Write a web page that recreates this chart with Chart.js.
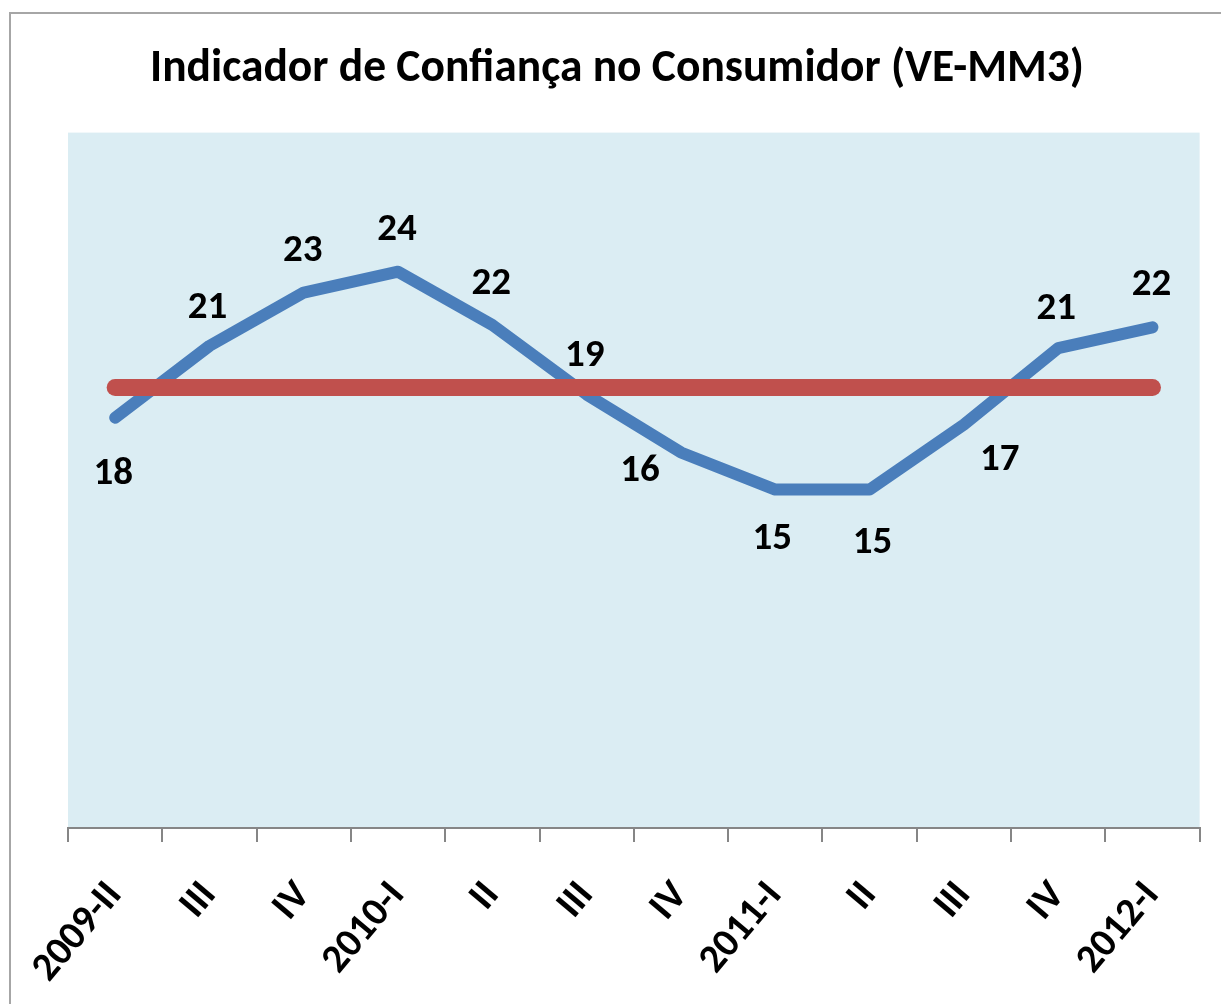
<!DOCTYPE html>
<html>
<head>
<meta charset="utf-8">
<title>Indicador de Confiança no Consumidor</title>
<script src="https://cdn.jsdelivr.net/npm/chart.js@4.4.0/dist/chart.umd.min.js"></script>
<style>
  html, body { margin: 0; padding: 0; background: #fff; overflow: hidden; }
  #wrap { position: relative; width: 1221px; height: 1004px; overflow: hidden; }
  #frame { position: absolute; left: 9px; top: 12px; width: 1300px; height: 1100px; border: 2px solid #a6a6a6; }
  #lineChart { position: absolute; left: 0; top: 0; }
</style>
</head>
<body>
<div id="wrap">
  <div id="frame"></div>
  <canvas id="lineChart" width="1221" height="1004"></canvas>
</div>
<script>
// quarters shown on the x axis
const quarters = ["2009-II", "III", "IV", "2010-I", "II", "III", "IV", "2011-I", "II", "III", "IV", "2012-I"];
// consumer confidence indicator (3 month moving avg)
const confidence = [17.7, 20.8, 23.1, 24.0, 21.7, 18.7, 16.2, 14.6, 14.6, 17.4, 20.7, 21.6];
// flat reference line
const average = [19.0, 19.0, 19.0, 19.0, 19.0, 19.0, 19.0, 19.0, 19.0, 19.0, 19.0, 19.0];

const FONT = "Carlito, Lato, sans-serif";

// light blue plot area, like the excel original
const plotBackground = {
    id: "plotBackground",
    beforeDraw(chart) {
        const a = chart.chartArea;
        const ctx = chart.ctx;
        ctx.save();
        ctx.fillStyle = "#dbedf3";
        ctx.fillRect(a.left, a.top, a.right - a.left, a.bottom - a.top);
        ctx.restore();
    }
};

// value labels next to each point (rounded like the original)
const valueLabels = {
    id: "valueLabels",
    afterDatasetsDraw(chart, args, opts) {
        const ctx = chart.ctx;
        const meta = chart.getDatasetMeta(0);
        ctx.save();
        ctx.font = opts.font;
        ctx.fillStyle = "#000";
        ctx.textAlign = "center";
        ctx.textBaseline = "middle";
        meta.data.forEach((pt, i) => {
            const off = opts.offsets[i];
            ctx.fillText(Math.round(confidence[i]), pt.x + off[0], pt.y + off[1]);
        });
        ctx.restore();
    }
};

const ctx = document.getElementById("lineChart");

new Chart(ctx, {
    type: "line",
    data: {
        labels: quarters,
        datasets: [{
            label: "Confiança",
            data: confidence,
            borderColor: "#4a7ebb",
            borderWidth: 12,
            borderCapStyle: "round",
            borderJoinStyle: "round",
            pointRadius: 0,
            tension: 0,
            order: 2
        }, {
            label: "Média",
            data: average,
            borderColor: "#c0504d",
            borderWidth: 17,
            borderCapStyle: "round",
            pointRadius: 0,
            order: 1
        }]
    },
    options: {
        responsive: false,
        animation: false,
        layout: {
            padding: { left: 31, right: 18, top: 0, bottom: 4 }
        },
        scales: {
            x: {
                offset: true,
                grid: {
                    offset: true,
                    drawOnChartArea: false,
                    drawTicks: true,
                    tickLength: 14,
                    color: "#868686",
                    lineWidth: 2
                },
                border: { color: "#868686", width: 2 },
                ticks: {
                    autoSkip: false,
                    minRotation: 50,
                    maxRotation: 50,
                    padding: 31,
                    color: "#000",
                    font: { family: FONT, size: 40, weight: "bold" }
                },
                afterFit(scale) { scale.height = 172; }
            },
            y: {
                min: 0,
                max: 30,
                grid: { display: false },
                border: { display: false },
                ticks: { display: false },
                afterFit(scale) { scale.width = 37; }
            }
        },
        plugins: {
            legend: { display: false },
            tooltip: { enabled: false },
            title: {
                display: true,
                text: "Indicador de Confiança no Consumidor (VE-MM3)",
                color: "#000",
                font: { family: FONT, size: 45.5, weight: "bold" },
                padding: { top: 42, bottom: 36 }
            },
            valueLabels: {
                font: "bold 39px " + FONT,
                offsets: [[-2, 57], [-2, -38], [-1, -41], [-1, -41], [-1, -41], [-2, -38],
                          [-41, 19], [-3, 50], [3, 54], [36, 36], [-2, -39], [-1, -42]]
            }
        }
    },
    plugins: [plotBackground, valueLabels]
});
</script>
</body>
</html>
